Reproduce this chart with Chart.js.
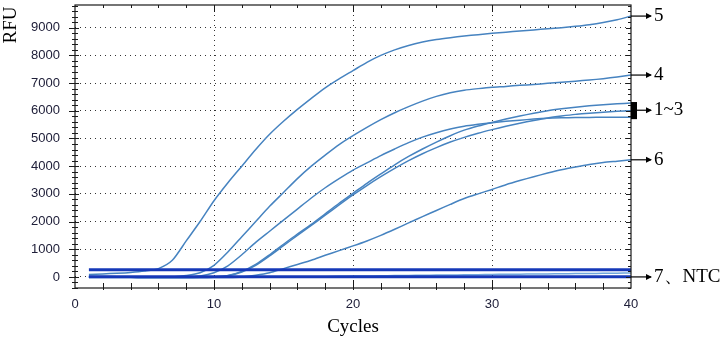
<!DOCTYPE html>
<html>
<head>
<meta charset="utf-8">
<script src="https://cdn.jsdelivr.net/npm/chart.js@4"></script>
<style>
  html, body { margin: 0; padding: 0; background: #ffffff; }
  #wrap { width: 724px; height: 339px; position: relative; }
</style>
</head>
<body>
<div id="wrap"><canvas id="pcr-chart"></canvas></div>
<script>
// amplification data (RFU per cycle)
const cycles = [1, 2, 3, 4, 5, 6, 7, 8, 9, 10, 11, 12, 13, 14, 15, 16, 17, 18, 19, 20,
  21, 22, 23, 24, 25, 26, 27, 28, 29, 30, 31, 32, 33, 34, 35, 36, 37, 38, 39, 40];

const curve5 = [90, 110, 130, 160, 210, 300, 600, 1300, 2000, 2750, 3400, 4000, 4600, 5150, 5620, 6050, 6450, 6830, 7150, 7450,
  7750, 8000, 8200, 8360, 8480, 8570, 8640, 8700, 8750, 8800, 8840, 8880, 8920, 8960, 9000, 9050, 9110, 9190, 9290, 9420];
const curve4 = [10, 5, 0, -5, -10, -10, 0, 50, 150, 420, 900, 1450, 2000, 2550, 3050, 3550, 4000, 4400, 4780, 5100,
  5400, 5680, 5930, 6150, 6350, 6520, 6650, 6740, 6800, 6850, 6880, 6920, 6950, 6990, 7030, 7070, 7110, 7160, 7220, 7290];
const curve1 = [20, 15, 10, 5, 0, -5, -10, -10, 30, 150, 400, 800, 1250, 1650, 2050, 2450, 2850, 3220, 3550, 3860,
  4120, 4380, 4620, 4850, 5050, 5210, 5340, 5440, 5510, 5570, 5620, 5660, 5700, 5730, 5745, 5755, 5760, 5765, 5768, 5770];
const curve2 = [0, 0, -5, -5, -10, -10, -15, -15, -10, 0, 50, 200, 450, 800, 1180, 1550, 1900, 2280, 2660, 3020,
  3380, 3720, 4050, 4350, 4620, 4870, 5100, 5300, 5450, 5580, 5700, 5810, 5910, 6000, 6070, 6130, 6180, 6220, 6250, 6280];
const curve3 = [-10, -10, -15, -15, -20, -20, -20, -20, -15, -5, 40, 180, 420, 760, 1130, 1500, 1860, 2230, 2600, 2960,
  3300, 3620, 3920, 4200, 4450, 4670, 4870, 5040, 5190, 5320, 5440, 5550, 5650, 5740, 5810, 5870, 5910, 5950, 5980, 6000];
const curve6 = [-20, -20, -25, -25, -30, -30, -30, -30, -30, -25, -20, 0, 60, 150, 300, 450, 600, 780, 950, 1120,
  1300, 1500, 1720, 1950, 2180, 2400, 2620, 2830, 3000, 3160, 3330, 3480, 3620, 3750, 3870, 3970, 4060, 4130, 4180, 4230];
const curve7 = [0, 0, 0, 0, 0, 0, 0, 0, 0, 0, 0, 0, 0, 0, 0, 0, 5, 10, 20, 30,
  35, 40, 50, 55, 60, 65, 70, 75, 80, 90, 95, 100, 105, 110, 115, 120, 125, 130, 135, 140];
const ntcHigh = [260, 260, 260, 260, 260, 260, 260, 260, 260, 260, 260, 260, 260, 260, 260, 260, 260, 260, 260, 260,
  260, 260, 260, 260, 260, 260, 260, 260, 260, 260, 260, 260, 260, 260, 260, 260, 260, 260, 260, 260];
const ntcLow = [10, 10, 10, 10, 10, 10, 10, 10, 10, 10, 10, 10, 10, 10, 10, 10, 10, 10, 10, 10,
  10, 10, 10, 10, 10, 10, 10, 10, 10, 10, 10, 10, 10, 10, 10, 10, 10, 10, 10, 10];

const xTicks = [0, 10, 20, 30, 40];
const yTicks = [0, 1000, 2000, 3000, 4000, 5000, 6000, 7000, 8000, 9000];

// right side labels: text + the value the arrow points at
const endLabels = [
  { text: '5', value: 9420 },
  { text: '4', value: 7290 },
  { text: '1~3', value: 6020, bracket: [6280, 5770] },
  { text: '6', value: 4230 },
  { text: '7、NTC', value: 0 }
];

const lineBlue = '#4683c0';
const darkBlue = '#1638b8';

function pts(arr) {
  return arr.map((v, i) => ({ x: cycles[i], y: v }));
}
function curve(arr, color, width) {
  return { data: pts(arr), borderColor: color, borderWidth: width, pointRadius: 0, tension: 0.25, fill: false };
}

// ticks, frame, axis titles and the arrows on the right
const decorPlugin = {
  id: 'decor',
  afterDraw(chart) {
    const c = chart.ctx;
    const a = chart.chartArea;
    const xs = chart.scales.x;
    const ys = chart.scales.y;
    c.save();
    c.strokeStyle = '#1a1a1a';
    c.lineWidth = 1.2;
    c.strokeRect(a.left, a.top, a.right - a.left, a.bottom - a.top);

    c.lineWidth = 1;
    c.beginPath();
    for (let v = -400; v <= 9800; v += 200) {
      const y = Math.round(ys.getPixelForValue(v)) + 0.5;
      const major = v % 1000 === 0;
      c.moveTo(a.left - (major ? 6 : 3), y);
      c.lineTo(a.left + (major ? 4 : 3), y);
      c.moveTo(a.right - (major ? 5 : 3), y);
      c.lineTo(a.right, y);
    }
    for (let k = 2; k < 40; k += 2) {
      const x = Math.round(xs.getPixelForValue(k)) + 0.5;
      const major = k % 10 === 0;
      c.moveTo(x, a.bottom + 2);
      c.lineTo(x, a.bottom - (major ? 8 : 5));
      c.moveTo(x, a.top);
      c.lineTo(x, a.top + (major ? 7 : 3));
    }
    c.stroke();

    // axis titles
    c.fillStyle = '#000000';
    c.font = '19px "Liberation Serif"';
    c.textAlign = 'center';
    c.textBaseline = 'middle';
    c.fillText('Cycles', xs.getPixelForValue(20), 327);
    c.save();
    c.translate(11, 25);
    c.rotate(-Math.PI / 2);
    c.fillText('RFU', 0, 0);
    c.restore();

    // arrows
    c.textAlign = 'left';
    c.strokeStyle = '#000000';
    c.lineWidth = 1.2;
    endLabels.forEach(l => {
      const y = ys.getPixelForValue(l.value);
      let x0 = a.right;
      if (l.bracket) {
        const y1 = ys.getPixelForValue(l.bracket[0]) - 1;
        const y2 = ys.getPixelForValue(l.bracket[1]) + 2;
        c.fillStyle = '#000000';
        c.fillRect(a.right, y1, 6, y2 - y1);
        x0 = a.right + 6;
      }
      const x1 = 651;
      c.beginPath();
      c.moveTo(x0, y);
      c.lineTo(x1, y);
      c.stroke();
      c.beginPath();
      c.moveTo(x1 + 1, y);
      c.lineTo(x1 - 5, y - 3);
      c.lineTo(x1 - 5, y + 3);
      c.closePath();
      c.fillStyle = '#000000';
      c.fill();
      c.fillText(l.text, 654, y);
    });
    c.restore();
  }
};

const ctx = document.getElementById('pcr-chart').getContext('2d');

new Chart(ctx, {
  type: 'line',
  data: {
    datasets: [
      curve(ntcHigh, darkBlue, 3),
      curve(ntcLow, darkBlue, 3),
      curve(curve7, '#6fa6dc', 1.5),
      curve(curve5, lineBlue, 1.5),
      curve(curve4, lineBlue, 1.5),
      curve(curve1, lineBlue, 1.5),
      curve(curve2, lineBlue, 1.5),
      curve(curve3, lineBlue, 1.5),
      curve(curve6, lineBlue, 1.5)
    ]
  },
  options: {
    responsive: true,
    maintainAspectRatio: false,
    animation: false,
    layout: { padding: { left: 0, right: 93, top: 5, bottom: 0 } },
    plugins: {
      legend: { display: false },
      tooltip: { enabled: false }
    },
    scales: {
      x: {
        type: 'linear',
        min: 0,
        max: 40,
        afterBuildTicks: s => { s.ticks = xTicks.map(v => ({ value: v })); },
        afterFit: s => { s.height = 51; s.paddingLeft = 0; s.paddingRight = 0; },
        border: { display: false, dash: [1, 4] },
        grid: {
          color: c => (c.tick.value === 0 || c.tick.value === 40) ? 'rgba(0,0,0,0)' : '#333333',
          lineWidth: 1,
          drawTicks: false
        },
        ticks: {
          padding: 9,
          color: '#20203a',
          font: { family: '"Liberation Sans", Arial, sans-serif', size: 13 },
          maxRotation: 0,
          callback: v => String(v)
        }
      },
      y: {
        min: -400,
        max: 9820,
        afterBuildTicks: s => { s.ticks = yTicks.map(v => ({ value: v })); },
        afterFit: s => { s.width = 75; s.paddingTop = 0; s.paddingBottom = 0; },
        border: { display: false, dash: [1, 4] },
        grid: {
          color: '#333333',
          lineWidth: 1,
          drawTicks: false
        },
        ticks: {
          padding: 15,
          color: '#20203a',
          font: { family: '"Liberation Sans", Arial, sans-serif', size: 13 },
          callback: v => String(v)
        }
      }
    }
  },
  plugins: [decorPlugin]
});
</script>
</body>
</html>
